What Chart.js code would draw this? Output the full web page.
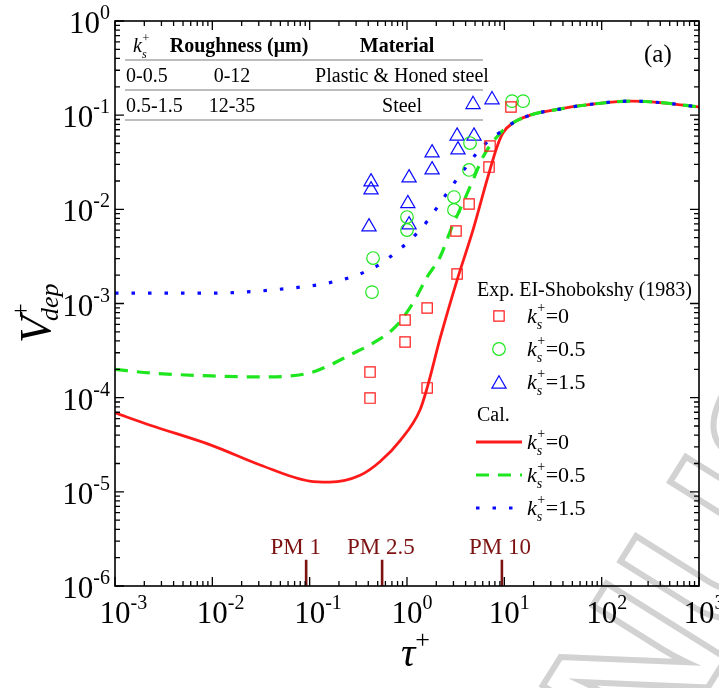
<!DOCTYPE html>
<html>
<head>
<meta charset="utf-8">
<script src="https://cdn.jsdelivr.net/npm/chart.js@4.4.1/dist/chart.umd.min.js"></script>
<style>
  body { margin: 0; background: #fff; }
  #wrap { width: 719px; height: 688px; }
</style>
</head>
<body>
<div id="wrap"><canvas id="c" width="719" height="688"></canvas></div>
<script>
// ---- calculated curves (Cal.) ----
const calTau0  = [0.001, 0.0023, 0.01, 0.031, 0.1, 0.16, 0.33, 0.53, 0.85, 1.36, 1.61, 2.18, 3.27, 4.76, 6.64, 8.4, 9.7, 12.3, 18.4, 37, 60, 200, 400, 1000];
const calV0    = [6.9e-5, 5.1e-5, 3.1e-5, 1.93e-5, 1.3e-5, 1.27e-5, 1.5e-5, 2.1e-5, 3.5e-5, 7.4e-5, 1.27e-4, 4.2e-4, 1.77e-3, 6.0e-3, 2.05e-2, 4.6e-2, 6.5e-2, 8.3e-2, 0.100, 0.116, 0.126, 0.141, 0.136, 0.122];
const calTau05 = [0.001, 0.0023, 0.01, 0.031, 0.1, 0.162, 0.259, 0.448, 0.753, 1.15, 1.61, 2.18, 2.9, 3.76, 4.77, 6.04, 8.41, 11.4, 18.4, 37, 60, 200, 400, 1000];
const calV05   = [2.0e-4, 1.83e-4, 1.70e-4, 1.66e-4, 1.83e-4, 2.22e-4, 2.84e-4, 3.8e-4, 5.6e-4, 1.01e-3, 1.91e-3, 3.1e-3, 6.5e-3, 1.17e-2, 2.05e-2, 3.6e-2, 5.9e-2, 7.9e-2, 0.100, 0.116, 0.126, 0.141, 0.136, 0.122];
const calTau15 = [0.001, 0.01, 0.0207, 0.066, 0.137, 0.205, 0.292, 0.407, 0.553, 0.753, 1.0, 1.30, 1.68, 2.08, 2.58, 3.27, 4.04, 5.12, 6.49, 9.03, 12.3, 18.4, 37, 60, 200, 400, 1000];
const calV15   = [1.29e-3, 1.29e-3, 1.32e-3, 1.46e-3, 1.61e-3, 1.77e-3, 1.96e-3, 2.27e-3, 2.69e-3, 3.44e-3, 4.39e-3, 5.74e-3, 7.9e-3, 1.08e-2, 1.49e-2, 2.10e-2, 2.81e-2, 3.87e-2, 5.06e-2, 6.6e-2, 8.3e-2, 0.100, 0.116, 0.126, 0.141, 0.136, 0.122];

// ---- experiments, El-Shobokshy (1983) ----
const expTau0  = [11.7, 7.13, 6.96, 4.34, 3.19, 3.27, 1.61, 0.955, 0.955, 0.417, 0.417, 1.61];
const expV0    = [0.122, 0.047, 0.0281, 0.0114, 5.89e-3, 2.06e-3, 8.96e-4, 6.68e-4, 3.90e-4, 1.87e-4, 9.9e-5, 1.27e-4];
const expTau05 = [12.0, 15.6, 4.44, 4.34, 3.04, 3.04, 1.0, 1.0, 0.448, 0.437];
const expV05   = [0.141, 0.141, 0.0506, 0.0262, 0.0135, 9.84e-3, 8.28e-3, 6.03e-3, 3.04e-3, 1.32e-3];
const expTau15 = [4.77, 7.47, 3.27, 4.88, 3.34, 1.81, 1.81, 1.05, 0.427, 0.427, 1.02, 1.05, 0.407];
const expV15   = [0.130, 0.146, 0.060, 0.060, 0.0428, 0.0398, 0.0263, 0.0216, 0.0196, 0.0161, 0.0115, 6.85e-3, 6.52e-3];

// ---- PM markers ----
const pmNames  = ['PM 1', 'PM 2.5', 'PM 10'];
const pmTau    = [0.092, 0.555, 9.44];
const pmLabelTau = [0.072, 0.54, 9.03];
const pmTop    = 1.9e-6;

// ---- axis ticks / table ----
const xTickExp = ['-3', '-2', '-1', '0', '1', '2', '3'];
const yTickExp = ['-6', '-5', '-4', '-3', '-2', '-1', '0'];
const tableHead = ['Roughness (\u03bcm)', 'Material'];
const tableRows = [['0-0.5', '0-12', 'Plastic & Honed steel'], ['0.5-1.5', '12-35', 'Steel']];
const kValues = ['0', '0.5', '1.5'];

const SERIF = "'Liberation Serif', 'Times New Roman', serif";
const RED = '#ff1a1a', GREEN = '#1ee61e', BLUE = '#0a0aff', PM = '#7d1212';

const pts = (xs, ys) => xs.map((x, i) => ({ x: x, y: ys[i] }));

const datasets = [
  { label: 'exp0', data: pts(expTau0, expV0), showLine: false, pointStyle: 'rect', pointRadius: 7.3,
    borderColor: RED, backgroundColor: 'rgba(0,0,0,0)', pointBorderWidth: 1.2, order: 0 },
  { label: 'exp05', data: pts(expTau05, expV05), showLine: false, pointStyle: 'circle', pointRadius: 6.3,
    borderColor: GREEN, backgroundColor: 'rgba(0,0,0,0)', pointBorderWidth: 1.2, order: 1 },
  { label: 'exp15', data: pts(expTau15, expV15), showLine: false, pointStyle: 'triangle', pointRadius: 8.2,
    borderColor: BLUE, backgroundColor: 'rgba(0,0,0,0)', pointBorderWidth: 1.2, order: 2 },
  { label: 'cal15', data: pts(calTau15, calV15), borderColor: BLUE, borderWidth: 3.2, borderDash: [3.5, 13],
    pointRadius: 0, cubicInterpolationMode: 'monotone', order: 3 },
  { label: 'cal05', data: pts(calTau05, calV05), borderColor: GREEN, borderWidth: 3.2, borderDash: [13, 9],
    pointRadius: 0, cubicInterpolationMode: 'monotone', order: 4 },
  { label: 'cal0', data: pts(calTau0, calV0), borderColor: RED, borderWidth: 2.8,
    pointRadius: 0, cubicInterpolationMode: 'monotone', order: 5 }
];
pmTau.forEach((t, i) => {
  datasets.push({ label: pmNames[i], data: [{ x: t, y: 1e-6 }, { x: t, y: pmTop }],
    borderColor: PM, borderWidth: 2.6, pointRadius: 0, order: 6 });
});

// draw a piece of text made of several runs (text, font, dy)
function runs(ctx, x, y, parts, align) {
  let w = 0;
  parts.forEach(p => { ctx.font = p[1]; w += ctx.measureText(p[0]).width; });
  let cx = align === 'right' ? x - w : (align === 'center' ? x - w / 2 : x);
  parts.forEach(p => {
    ctx.font = p[1];
    ctx.fillText(p[0], cx, y + (p[2] || 0));
    cx += ctx.measureText(p[0]).width;
  });
  return cx;
}

// k_s^+ with stacked sub/superscript, then the rest
function kPlus(ctx, x, y, size, rest) {
  ctx.textAlign = 'left';
  ctx.font = 'italic ' + size + 'px ' + SERIF;
  ctx.fillText('k', x, y);
  const kw = ctx.measureText('k').width;
  const small = Math.round(size * 0.62);
  ctx.font = small + 'px ' + SERIF;
  ctx.fillText('+', x + kw + 0.5, y - size * 0.5);
  const pw = ctx.measureText('+').width;
  ctx.font = 'italic ' + small + 'px ' + SERIF;
  ctx.fillText('s', x + kw, y + size * 0.28);
  if (rest) {
    ctx.font = size + 'px ' + SERIF;
    ctx.fillText(rest, x + kw + pw + 1, y);
  }
}

function marker(ctx, style, x, y, r, color) {
  ctx.save();
  ctx.strokeStyle = color; ctx.lineWidth = 1.2;
  ctx.beginPath();
  if (style === 'rect') {
    const s = r * Math.SQRT1_2;
    ctx.rect(x - s, y - s, 2 * s, 2 * s);
  } else if (style === 'circle') {
    ctx.arc(x, y, r, 0, Math.PI * 2);
  } else {
    for (let k = 0; k < 3; k++) {
      const a = k * 2 * Math.PI / 3;
      const px = x + Math.sin(a) * r, py = y - Math.cos(a) * r;
      k ? ctx.lineTo(px, py) : ctx.moveTo(px, py);
    }
    ctx.closePath();
  }
  ctx.stroke();
  ctx.restore();
}

// faint diagonal manuscript watermark in the lower right
const watermark = {
  id: 'watermark',
  beforeDraw(chart) {
    const ctx = chart.ctx;
    ctx.save();
    ctx.translate(655, 772);
    ctx.rotate(-58 * Math.PI / 180);
    ctx.font = 'bold 205px ' + "'Liberation Sans', Arial, sans-serif";
    ctx.strokeStyle = '#d2d2d2';
    ctx.lineWidth = 6;
    ctx.strokeText('NUSC', 0, 0);
    ctx.restore();
  }
};

const decor = {
  id: 'decor',
  afterDraw(chart) {
    const ctx = chart.ctx, a = chart.chartArea;
    const xs = chart.scales.x, ys = chart.scales.y;
    ctx.save();

    // frame + inward ticks on all four sides
    ctx.strokeStyle = '#000';
    ctx.lineWidth = 1.6;
    ctx.strokeRect(a.left, a.top, a.right - a.left, a.bottom - a.top);
    ctx.lineWidth = 1.3;
    ctx.beginPath();
    for (let e = -3; e <= 3; e++) {
      for (let m = 1; m <= 9; m++) {
        const v = m * Math.pow(10, e);
        if (v > 1000.0001) break;
        const px = xs.getPixelForValue(v), len = m === 1 ? 9 : 5;
        ctx.moveTo(px, a.bottom); ctx.lineTo(px, a.bottom - len);
        ctx.moveTo(px, a.top); ctx.lineTo(px, a.top + len);
      }
    }
    for (let e = -6; e <= 0; e++) {
      for (let m = 1; m <= 9; m++) {
        const v = m * Math.pow(10, e);
        if (v > 1.0001) break;
        const py = ys.getPixelForValue(v), len = m === 1 ? 9 : 5;
        ctx.moveTo(a.left, py); ctx.lineTo(a.left + len, py);
        ctx.moveTo(a.right, py); ctx.lineTo(a.right - len, py);
      }
    }
    ctx.stroke();

    // tick labels 10^n
    ctx.fillStyle = '#000';
    ctx.textBaseline = 'alphabetic';
    const big = '31px ' + SERIF, sup = '20px ' + SERIF;
    xTickExp.forEach(ex => {
      const px = xs.getPixelForValue(Math.pow(10, +ex));
      ctx.font = big;
      const w = ctx.measureText('10').width;
      ctx.textAlign = 'left';
      runs(ctx, px - w / 2, 623, [['10', big, 0], [ex, sup, -14]], 'left');
    });
    yTickExp.forEach(ex => {
      const py = ys.getPixelForValue(Math.pow(10, +ex));
      ctx.textAlign = 'left';
      runs(ctx, 110, py + 12, [['10', big, 0], [ex, sup, -14]], 'right');
    });

    // axis titles
    ctx.textAlign = 'left';
    runs(ctx, 401, 666, [['\u03c4', 'italic 40px ' + SERIF, 0], ['+', '26px ' + SERIF, -18]], 'left');
    ctx.save();
    ctx.translate(50, 343);
    ctx.rotate(-Math.PI / 2);
    ctx.font = 'italic 44px ' + SERIF;
    ctx.fillText('V', 0, 0);
    const vw = ctx.measureText('V').width;
    ctx.font = '26px ' + SERIF;
    ctx.fillText('+', vw - 2, -21);
    ctx.font = 'italic 26px ' + SERIF;
    ctx.fillText('dep', vw - 5, 8);
    ctx.restore();

    // table
    ctx.strokeStyle = '#a8a8a8';
    ctx.lineWidth = 1.6;
    ctx.beginPath();
    [60, 90, 120].forEach(y => { ctx.moveTo(125, y); ctx.lineTo(483, y); });
    ctx.stroke();
    ctx.fillStyle = '#000';
    kPlus(ctx, 133, 52, 20, '');
    ctx.textAlign = 'center';
    ctx.font = 'bold 20px ' + SERIF;
    ctx.fillText(tableHead[0], 239, 52);
    ctx.fillText(tableHead[1], 397, 52);
    ctx.font = '20px ' + SERIF;
    tableRows.forEach((r, i) => {
      const y = 82 + i * 30;
      ctx.textAlign = 'left';
      ctx.fillText(r[0], 126, y);
      ctx.textAlign = 'center';
      ctx.fillText(r[1], 232, y);
      ctx.fillText(r[2], 402, y);
    });

    // (a)
    ctx.textAlign = 'left';
    ctx.font = '25px ' + SERIF;
    ctx.fillText('(a)', 644, 62);

    // PM labels
    ctx.fillStyle = PM;
    ctx.textAlign = 'center';
    ctx.font = '23px ' + SERIF;
    pmLabelTau.forEach((t, i) => ctx.fillText(pmNames[i], xs.getPixelForValue(t), 554));

    // legend
    ctx.fillStyle = '#000';
    ctx.textAlign = 'left';
    ctx.font = '20px ' + SERIF;
    ctx.fillText('Exp. EI-Shobokshy (1983)', 477, 296);
    const styles = [['rect', 7.3, RED], ['circle', 6.3, GREEN], ['triangle', 8.2, BLUE]];
    styles.forEach((s, i) => {
      const y = 316 + i * 33;
      marker(ctx, s[0], 499, s[0] === 'triangle' ? y + 2 : y, s[1], s[2]);
      ctx.fillStyle = '#000';
      kPlus(ctx, 527, y + 7, 22, '=' + kValues[i]);
    });
    ctx.font = '20px ' + SERIF;
    ctx.fillText('Cal.', 477, 421);
    const lines = [[RED, [], 2.8], [GREEN, [13, 9], 3.2], [BLUE, [3.5, 13], 3.2]];
    lines.forEach((l, i) => {
      const y = 442 + i * 33;
      ctx.strokeStyle = l[0];
      ctx.lineWidth = l[2];
      ctx.setLineDash(l[1]);
      ctx.beginPath(); ctx.moveTo(476, y); ctx.lineTo(522, y); ctx.stroke();
      ctx.setLineDash([]);
      ctx.fillStyle = '#000';
      kPlus(ctx, 527, y + 7, 22, '=' + kValues[i]);
    });
    ctx.restore();
  }
};

new Chart(document.getElementById('c'), {
  type: 'line',
  data: { datasets: datasets },
  options: {
    responsive: false,
    devicePixelRatio: 1,
    animation: false,
    layout: { padding: { left: 115, right: 20, top: 21, bottom: 102 } },
    scales: {
      x: { type: 'logarithmic', min: 1e-3, max: 1e3, display: false },
      y: { type: 'logarithmic', min: 1e-6, max: 1, display: false }
    },
    plugins: { legend: { display: false }, tooltip: { enabled: false } }
  },
  plugins: [watermark, decor]
});
</script>
</body>
</html>
